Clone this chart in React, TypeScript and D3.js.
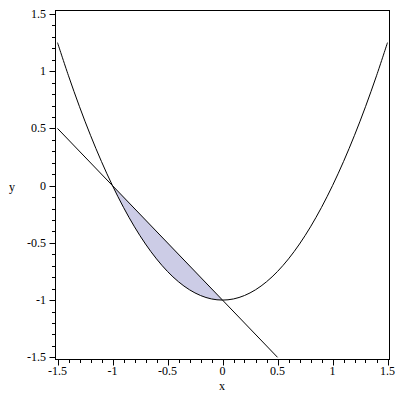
import React from 'react';
import * as d3 from 'd3';

// values
const curveX = [
  -1.5, -1.4, -1.3, -1.2, -1.1, -1.0, -0.9, -0.8, -0.7, -0.6, -0.5, -0.4, -0.3, -0.2, -0.1, 0,
  0.1, 0.2, 0.3, 0.4, 0.5, 0.6, 0.7, 0.8, 0.9, 1.0, 1.1, 1.2, 1.3, 1.4, 1.5,
];
const curveY = [
  1.25, 0.96, 0.69, 0.44, 0.21, 0, -0.19, -0.36, -0.51, -0.64, -0.75, -0.84, -0.91, -0.96, -0.99, -1,
  -0.99, -0.96, -0.91, -0.84, -0.75, -0.64, -0.51, -0.36, -0.19, 0, 0.21, 0.44, 0.69, 0.96, 1.25,
];
const lineX = [-1.5, 0.5];
const lineY = [0.5, -1.5];
const regionX = [-1.0, -0.9, -0.8, -0.7, -0.6, -0.5, -0.4, -0.3, -0.2, -0.1, 0];
const regionTop = [0, -0.1, -0.2, -0.3, -0.4, -0.5, -0.6, -0.7, -0.8, -0.9, -1];
const regionBottom = [0, -0.19, -0.36, -0.51, -0.64, -0.75, -0.84, -0.91, -0.96, -0.99, -1];
const majorTicks = [-1.5, -1, -0.5, 0, 0.5, 1, 1.5];
const tickLabels = ['-1.5', '-1', '-0.5', '0', '0.5', '1', '1.5'];

const W = 400;
const H = 400;
const frame = { left: 55.5, right: 389.5, top: 10.5, bottom: 359.5 };
const font = '"Liberation Serif", "Times New Roman", serif';

export default function App() {
  const x = d3.scaleLinear().domain([-1.5, 1.5]).range([57.5, 387.5]);
  const y = d3.scaleLinear().domain([-1.5, 1.5]).range([357.3, 14]);

  const curvePath = d3
    .line<number>()
    .x((_, i) => x(curveX[i]))
    .y((d) => y(d))
    .curve(d3.curveCatmullRom)(curveY);

  const linePath = d3
    .line<number>()
    .x((_, i) => x(lineX[i]))
    .y((d) => y(d))(lineY);

  const regionPath = d3
    .area<number>()
    .x((_, i) => x(regionX[i]))
    .y0((_, i) => y(regionBottom[i]))
    .y1((_, i) => y(regionTop[i]))
    .curve(d3.curveCatmullRom)(regionX);

  const minorTicks = d3.range(-15, 16).map((k) => k / 10).filter((v) => Math.abs(v * 2 - Math.round(v * 2)) > 1e-6);

  const px = (v: number) => Math.round(x(v)) + 0.5;
  const py = (v: number) => Math.round(y(v)) + 0.5;

  return (
    <svg
      width={W}
      height={H}
      style={{ position: 'absolute', left: 0, top: 0, background: '#fff' }}
      fontFamily={font}
      fontSize={12}
    >
      <rect width={W} height={H} fill="#fff" />
      <path d={regionPath ?? ''} fill="#ccccE6" stroke="none" />
      <path d={curvePath ?? ''} fill="none" stroke="#000" strokeWidth={1} />
      <path d={linePath ?? ''} fill="none" stroke="#000" strokeWidth={1} />

      <rect
        x={frame.left}
        y={frame.top}
        width={frame.right - frame.left}
        height={frame.bottom - frame.top}
        fill="none"
        stroke="#000"
        strokeWidth={1}
      />

      {/* x axis ticks */}
      {majorTicks.map((v, i) => (
        <g key={`xt${v}`}>
          <line x1={px(v)} x2={px(v)} y1={frame.bottom} y2={frame.bottom + 6} stroke="#000" />
          <text x={x(v)} y={375} textAnchor="middle">
            {tickLabels[i]}
          </text>
        </g>
      ))}
      {minorTicks.map((v) => (
        <line key={`xm${v}`} x1={px(v)} x2={px(v)} y1={frame.bottom} y2={frame.bottom + 3.5} stroke="#000" />
      ))}

      {/* y axis ticks */}
      {majorTicks.map((v, i) => (
        <g key={`yt${v}`}>
          <line x1={frame.left - 6} x2={frame.left} y1={py(v)} y2={py(v)} stroke="#000" />
          <text x={46} y={y(v) + 4} textAnchor="end">
            {tickLabels[i]}
          </text>
        </g>
      ))}
      {minorTicks.map((v) => (
        <line key={`ym${v}`} x1={frame.left - 3.5} x2={frame.left} y1={py(v)} y2={py(v)} stroke="#000" />
      ))}

      <text x={222} y={390} textAnchor="middle">
        x
      </text>
      <text x={12} y={191} textAnchor="middle">
        y
      </text>
    </svg>
  );
}
